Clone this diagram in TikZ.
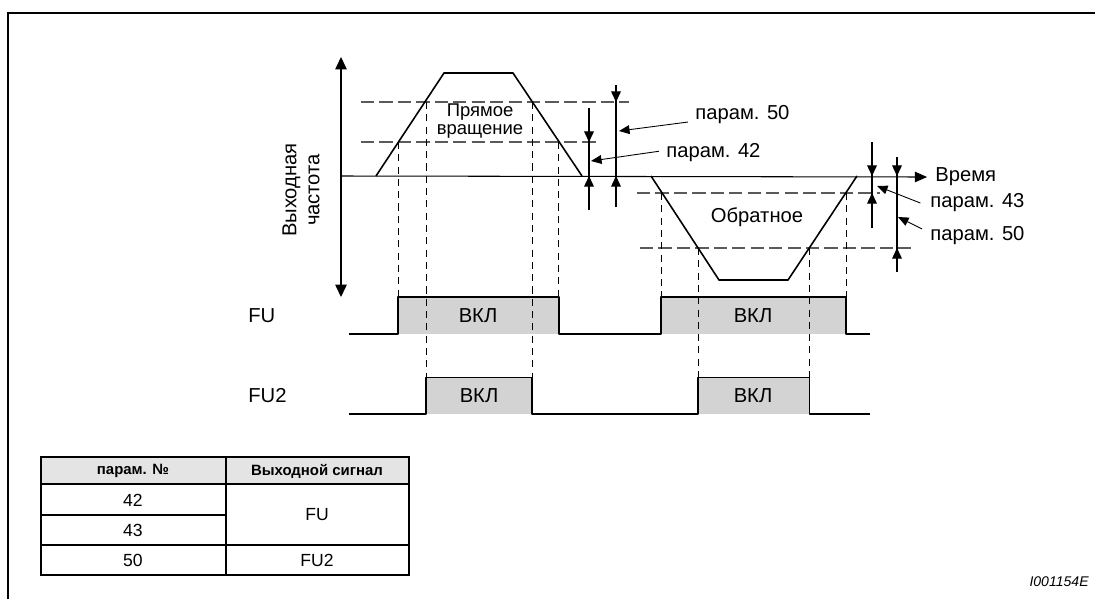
\documentclass[tikz,border=0pt]{standalone}
\usepackage{fontspec}
\setmainfont{Liberation Sans}
\usepackage{tikz}
\usetikzlibrary{arrows.meta,positioning}
\definecolor{pulsegray}{HTML}{D3D3D3}
\definecolor{headgray}{HTML}{E4E4E4}
\definecolor{dashgray}{HTML}{5A5A5A}
\tikzset{
  frameline/.style={line width=1.2pt},
  wave/.style={line width=0.9pt, line join=round},
  axisline/.style={line width=0.6pt},
  levelline/.style={draw=dashgray, line width=0.7pt, dash pattern=on 7.5pt off 3pt},
  guideline/.style={line width=0.5pt, dash pattern=on 4pt off 3pt},
  dimarrow/.style={line width=0.6pt, -{Triangle[length=6pt,width=5.5pt]}},
  leader/.style={line width=0.5pt, -{Triangle[length=6pt,width=5pt]}},
  lbl/.style={font=\fontsize{11.5}{13}\selectfont, inner sep=0pt},
  tabhead/.style={font=\fontsize{8.5}{10}\selectfont\bfseries, inner sep=0pt},
  tabcell/.style={font=\fontsize{10}{12}\selectfont, inner sep=0pt},
  tabthin/.style={line width=0.8pt},
  tabthick/.style={line width=1.2pt},
}

\begin{document}
\begin{tikzpicture}[x=0.02cm, y=-0.02cm]
  \useasboundingbox (0,0) rectangle (1095,599);
  \draw[frameline] (8,599) -- (8,13) -- (1095,13);

  \coordinate (org) at (341,176);
  \node[lbl, anchor=west] (time) at (935,177) {Время};
  \node[lbl, rotate=90, align=center] (fout) at (301,190) {Выходная\\частота};
  \draw[axisline, {Triangle[length=7pt,width=6.5pt]}-{Triangle[length=7pt,width=6.5pt]}] (341,57) -- (341,297);
  \draw[axisline, -{Triangle[length=7pt,width=6pt]}] (org) -- ([xshift=-4.5pt]time.west);

  \draw[levelline] (361,102) -- (629,102);
  \draw[levelline] (361,142) -- (600,142);
  \draw[levelline] (637,193) -- (880,193);
  \draw[levelline] (640,248) -- (915,248);

  \draw[wave] (376,176) -- (444,73) -- (513,73) -- (582,176);
  \draw[wave] (651,176) -- (719,280) -- (788,280) -- (857,176);
  \node[lbl, align=center, font=\fontsize{10.5}{9.8}\selectfont] (fwd) at (480,121) {Прямое\\вращение};
  \node[lbl] (rev) at (757,217) {Обратное};

  \fill[pulsegray] (398,297) rectangle (559,334);
  \fill[pulsegray] (661,297) rectangle (846,334);
  \fill[pulsegray] (426,377.5) rectangle (532,414);
  \fill[pulsegray] (698,377.5) rectangle (809.5,414);

  \foreach \x/\ya/\yb in {398/142/297, 426/102/377.5, 532/102/377.5, 558/142/297,
                          661/193/297, 698/248/377.5, 809/248/377.5, 846/193/297}
    \draw[guideline] (\x,\ya) -- (\x,\yb);

  \draw[wave] (349,334) -| (398,297) -| (559,334) -| (661,297) -| (846,334) -- (870,334);
  \draw[wave] (349,414) -| (426,377.5) -| (532,414) -| (698,377.5) -| (809.5,414) -- (870,414);

  \node[lbl, anchor=west] (fu) at (248,316) {FU};
  \node[lbl, anchor=west] (fu2) at (248,396) {FU2};
  \node[lbl] (on1) at (478,316) {ВКЛ};
  \node[lbl] (on2) at (753,316) {ВКЛ};
  \node[lbl] (on3) at (479,396) {ВКЛ};
  \node[lbl] (on4) at (753,396) {ВКЛ};

  \foreach \x/\ya/\yb/\yc/\yd in {589/108/142/176/210, 616/85/102/176/207,
                                  872/142/176/193/228, 897/157/176/248/272}{
    \draw[axisline] (\x,\ya) -- (\x,\yd);
    \draw[dimarrow] (\x,\ya) -- (\x,\yb);
    \draw[dimarrow] (\x,\yd) -- (\x,\yc);
  }

  \coordinate (t50a) at (619,131);
  \coordinate (t42) at (591,161);
  \coordinate (t43) at (877,186);
  \coordinate (t50b) at (898,217);
  \node[lbl, anchor=west] (p50a) at (695,115) {парам. 50};
  \node[lbl, anchor=west] (p42) at (666,153) {парам. 42};
  \node[lbl, anchor=west] (p43) at (930,203) {парам. 43};
  \node[lbl, anchor=west] (p50b) at (930,236) {парам. 50};
  \draw[leader] ([shift={(-4pt,-4pt)}]p50a.west) -- (t50a);
  \draw[leader] ([shift={(-4pt,1pt)}]p42.west) -- (t42);
  \draw[leader] ([shift={(-5.5pt,0pt)}]p43.west) -- (t43);
  \draw[leader] ([shift={(-4.5pt,4pt)}]p50b.west) -- (t50b);

  \fill[headgray] (41,457) rectangle (409,484);
  \draw[tabthin] (41,484) -- (409,484);
  \draw[tabthin] (41,515) -- (226,515);
  \draw[tabthin] (41,545) -- (409,545);
  \draw[tabthick] (226,457) -- (226,575);
  \draw[tabthick] (41,457) rectangle (409,575);
  \node[tabhead] (hnum) at (133,471) {парам. №};
  \node[tabhead] (hsig) at (317,471) {Выходной сигнал};
  \node[tabcell] (n42) at (133,500) {42};
  \node[tabcell] (n43) at (133,530) {43};
  \node[tabcell] (n50) at (133,560) {50};
  \node[tabcell] (sfu) at (317,515) {FU};
  \node[tabcell] (sfu2) at (317,560) {FU2};

  \node[font=\fontsize{8}{10}\selectfont\itshape, anchor=east, inner sep=0pt] (figid) at (1089,582) {I001154E};
\end{tikzpicture}
\end{document}
